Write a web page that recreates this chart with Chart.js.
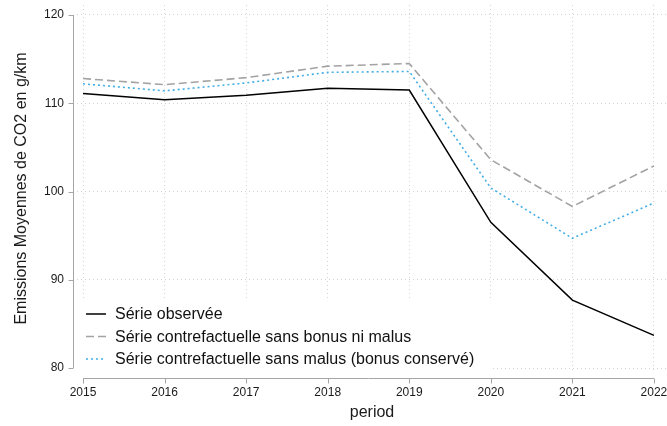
<!DOCTYPE html>
<html>
<head>
<meta charset="utf-8">
<script src="https://cdn.jsdelivr.net/npm/chart.js@4/dist/chart.umd.min.js"></script>
<style>
  html, body { margin: 0; padding: 0; background: #fff; }
  #wrap { width: 667px; height: 426px; }
</style>
</head>
<body>
<div id="wrap"><canvas id="co2Chart" width="667" height="426"></canvas></div>
<script>
// Data
const years = [2015, 2016, 2017, 2018, 2019, 2020, 2021, 2022];
const observed = [111.1, 110.4, 110.9, 111.7, 111.5, 96.5, 87.7, 83.7];
const noBonusNoMalus = [112.8, 112.1, 112.9, 114.2, 114.5, 103.6, 98.3, 102.9];
const noMalus = [112.2, 111.4, 112.3, 113.5, 113.6, 100.4, 94.7, 98.7];
const yTicks = [80, 90, 100, 110, 120];

const FONT = '"Liberation Sans", Arial, Helvetica, sans-serif';
const AXIS_COLOR = '#a6a6a6';

const toPoints = (vals) => years.map((yr, i) => ({ x: yr, y: vals[i] }));

// Stata-like axis lines and tick marks, offset from the plot region
const axesPlugin = {
    id: 'stataAxes',
    afterDraw(chart) {
        const { ctx, scales: { x, y }, chartArea } = chart;
        ctx.save();
        ctx.strokeStyle = AXIS_COLOR;
        ctx.lineWidth = 1;

        // y axis
        const ax = chartArea.left - 3.5;
        ctx.beginPath();
        ctx.moveTo(ax, y.getPixelForValue(yTicks[yTicks.length - 1]));
        ctx.lineTo(ax, y.getPixelForValue(yTicks[0]));
        yTicks.forEach(v => {
            const py = Math.round(y.getPixelForValue(v)) + 0.5;
            ctx.moveTo(ax - 5, py);
            ctx.lineTo(ax, py);
        });
        ctx.stroke();

        // x axis
        const ay = chartArea.bottom + 6.5;
        ctx.beginPath();
        ctx.moveTo(x.getPixelForValue(years[0]), ay);
        ctx.lineTo(x.getPixelForValue(years[years.length - 1]), ay);
        years.forEach(v => {
            const px = Math.round(x.getPixelForValue(v)) + 0.5;
            ctx.moveTo(px, ay);
            ctx.lineTo(px, ay + 5);
        });
        ctx.stroke();
        ctx.restore();
    }
};

// Legend drawn inside the plot, bottom-left, on a white box
const insideLegend = {
    id: 'insideLegend',
    beforeDatasetsDraw(chart) {
        const { ctx, chartArea } = chart;
        ctx.save();
        ctx.fillStyle = '#ffffff';
        ctx.fillRect(chartArea.left, chartArea.bottom - 74, 415, 76);
        ctx.font = '16px ' + FONT;
        ctx.textBaseline = 'middle';
        ctx.textAlign = 'left';
        chart.data.datasets.forEach((ds, i) => {
            const cy = chartArea.bottom - 58 + i * 22.5;
            ctx.strokeStyle = ds.borderColor;
            ctx.lineWidth = ds.borderWidth;
            ctx.setLineDash(ds.borderDash || []);
            ctx.beginPath();
            ctx.moveTo(chartArea.left + 9, cy);
            ctx.lineTo(chartArea.left + 29, cy);
            ctx.stroke();
            ctx.setLineDash([]);
            ctx.fillStyle = '#111';
            ctx.fillText(ds.label, chartArea.left + 38, cy + 1);
        });
        ctx.restore();
    }
};

new Chart(document.getElementById('co2Chart'), {
    type: 'line',
    data: {
        datasets: [
            {
                label: 'Série observée',
                data: toPoints(observed),
                borderColor: '#000000',
                borderWidth: 1.5,
                pointRadius: 0,
                tension: 0,
                fill: false
            },
            {
                label: 'Série contrefactuelle sans bonus ni malus',
                data: toPoints(noBonusNoMalus),
                borderColor: '#a3a3a3',
                borderWidth: 1.6,
                borderDash: [8, 4],
                pointRadius: 0,
                tension: 0,
                fill: false
            },
            {
                label: 'Série contrefactuelle sans malus (bonus conservé)',
                data: toPoints(noMalus),
                borderColor: '#42aee8',
                borderWidth: 1.6,
                borderDash: [2, 3],
                pointRadius: 0,
                tension: 0,
                fill: false
            }
        ]
    },
    options: {
        responsive: false,
        animation: false,
        layout: { padding: { top: 5, right: 0, bottom: 0, left: 0 } },
        plugins: {
            legend: { display: false },
            tooltip: { enabled: false }
        },
        scales: {
            x: {
                type: 'linear',
                min: 2014.926,
                max: 2022.16,
                afterBuildTicks: (scale) => { scale.ticks = years.map(v => ({ value: v })); },
                afterFit: (scale) => {
                    scale.height = 54;
                    scale.paddingLeft = 0;
                    scale.paddingRight = 0;
                },
                ticks: {
                    autoSkip: false,
                    maxRotation: 0,
                    padding: 13,
                    color: '#1a1a1a',
                    font: { family: FONT, size: 12 },
                    callback: (v) => String(v)
                },
                grid: {
                    color: '#d4d4d4',
                    lineWidth: 1,
                    drawTicks: false,
                    borderDash: [1, 3]
                },
                border: { display: false, dash: [1, 3] },
                title: {
                    display: true,
                    text: 'period',
                    color: '#1a1a1a',
                    font: { family: FONT, size: 16 },
                    padding: { top: 0, bottom: 4 }
                }
            },
            y: {
                type: 'linear',
                min: 79.55,
                max: 121.13,
                afterBuildTicks: (scale) => { scale.ticks = yTicks.map(v => ({ value: v })); },
                afterFit: (scale) => {
                    scale.width = 77;
                    scale.paddingTop = 0;
                    scale.paddingBottom = 0;
                },
                ticks: {
                    padding: 13,
                    color: '#1a1a1a',
                    font: { family: FONT, size: 12 }
                },
                grid: {
                    color: '#d4d4d4',
                    lineWidth: 1,
                    drawTicks: false,
                    borderDash: [1, 3]
                },
                border: { display: false, dash: [1, 3] },
                title: {
                    display: true,
                    text: 'Emissions Moyennes de CO2 en g/km',
                    color: '#1a1a1a',
                    font: { family: FONT, size: 16 },
                    padding: { top: 12, bottom: 0 }
                }
            }
        }
    },
    plugins: [axesPlugin, insideLegend]
});
</script>
</body>
</html>
